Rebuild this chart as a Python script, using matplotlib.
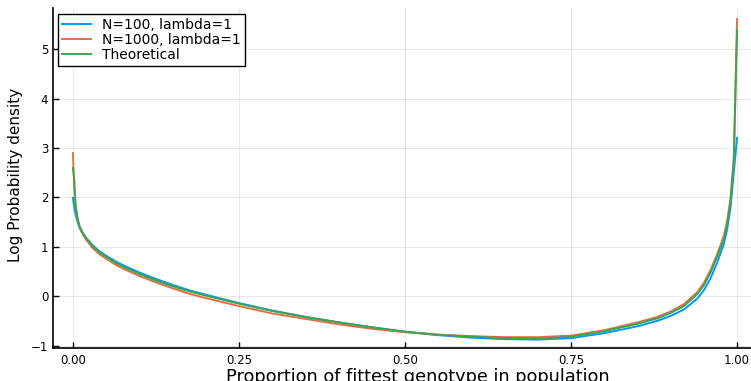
import matplotlib
matplotlib.use('Agg')
import matplotlib.pyplot as plt

# Proportion grid (denser near the edges where the density blows up)
prop = [0, 0.002, 0.004, 0.007, 0.01, 0.015, 0.02, 0.03, 0.04, 0.05,
        0.065, 0.08, 0.1, 0.125, 0.15, 0.175, 0.2, 0.25, 0.3, 0.35,
        0.4, 0.45, 0.5, 0.55, 0.6, 0.65, 0.7, 0.75, 0.8, 0.85,
        0.88, 0.9, 0.92, 0.94, 0.95, 0.96, 0.97, 0.98, 0.985, 0.99,
        0.995, 1.0]

# Simulated log densities, N=100
logdens_n100 = [1.99, 1.80, 1.65, 1.50, 1.38, 1.27, 1.18, 1.03, 0.91, 0.82,
                0.70, 0.60, 0.48, 0.35, 0.23, 0.12, 0.03, -0.14, -0.29, -0.42,
                -0.53, -0.63, -0.72, -0.79, -0.84, -0.87, -0.88, -0.85, -0.75, -0.61,
                -0.50, -0.40, -0.27, -0.05, 0.12, 0.36, 0.68, 1.05, 1.35, 1.78,
                2.50, 3.21]

# Simulated log densities, N=1000
logdens_n1000 = [2.90, 2.20, 1.80, 1.55, 1.40, 1.25, 1.14, 0.97, 0.85, 0.76,
                 0.63, 0.53, 0.41, 0.28, 0.16, 0.05, -0.04, -0.20, -0.35, -0.46,
                 -0.57, -0.66, -0.73, -0.78, -0.81, -0.83, -0.83, -0.80, -0.69, -0.53,
                 -0.42, -0.31, -0.16, 0.08, 0.27, 0.53, 0.85, 1.22, 1.52, 1.97,
                 2.80, 5.62]

# Theoretical log density
logdens_theory = [2.60, 2.36, 1.85, 1.58, 1.42, 1.28, 1.17, 1.01, 0.89, 0.80,
                  0.67, 0.57, 0.45, 0.32, 0.20, 0.10, 0.01, -0.15, -0.30, -0.42,
                  -0.53, -0.63, -0.72, -0.78, -0.82, -0.85, -0.86, -0.82, -0.71, -0.56,
                  -0.45, -0.34, -0.20, 0.04, 0.22, 0.48, 0.80, 1.15, 1.45, 1.90,
                  2.70, 5.40]

xticks = [0.0, 0.25, 0.5, 0.75, 1.0]
xtick_labels = ['0.00', '0.25', '0.50', '0.75', '1.00']
yticks = [-1, 0, 1, 2, 3, 4, 5]

fig = plt.figure(figsize=(7.51, 3.81), dpi=100)
ax = fig.add_axes([53 / 751, 1 - 348 / 381, 704 / 751, 340 / 381])

ax.plot(prop, logdens_n100, color='#009AFA', linewidth=1.4, label='N=100, lambda=1')
ax.plot(prop, logdens_n1000, color='#E36F47', linewidth=1.4, label='N=1000, lambda=1')
ax.plot(prop, logdens_theory, color='#3EA44E', linewidth=1.4, label='Theoretical')

ax.set_xlim(-0.03, 1.03)
ax.set_ylim(-1.05, 5.84)
ax.set_xticks(xticks)
ax.set_xticklabels(xtick_labels)
ax.set_yticks(yticks)
ax.tick_params(direction='in', length=4, width=1, labelsize=8.5, colors='black')
ax.tick_params(axis='x', pad=4)

# Julia/GR look: faint grid, only left and bottom axes
ax.grid(True, color='black', alpha=0.1, linewidth=0.6)
ax.set_axisbelow(True)
for side in ['top', 'right']:
    ax.spines[side].set_visible(False)
for side in ['left', 'bottom']:
    ax.spines[side].set_linewidth(1.2)

ax.set_xlabel('Proportion of fittest genotype in population', fontsize=12.8)
ax.xaxis.set_label_coords((418 - 53) / 704, -0.058)
ax.set_ylabel('Log Probability density', fontsize=11)
ax.yaxis.set_label_coords(-0.043, (348 - 175) / 340)

leg = ax.legend(loc='upper left', bbox_to_anchor=(0.007, 0.983), borderaxespad=0,
                fontsize=10.0, frameon=True, fancybox=False, framealpha=1,
                edgecolor='black', handlelength=2.1, handletextpad=0.8,
                borderpad=0.3, labelspacing=0.08)
leg.get_frame().set_linewidth(1.0)

plt.savefig('out.png', dpi=100)
